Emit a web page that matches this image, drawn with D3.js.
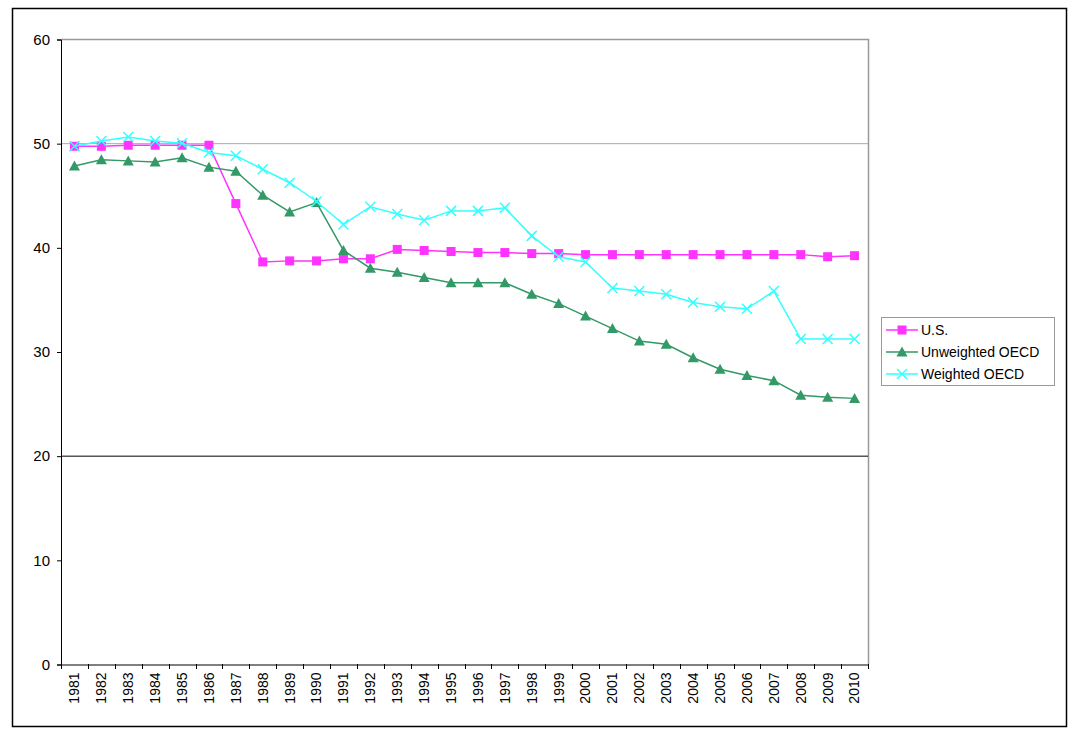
<!DOCTYPE html>
<html><head><meta charset="utf-8">
<script src="https://cdn.jsdelivr.net/npm/d3@7"></script>
<style>body{margin:0;background:#fff}svg{display:block}text{font-family:"Liberation Sans",Arial,sans-serif}</style>
</head><body>
<svg id="c" width="1076" height="737"></svg>
<script>
const years = ["1981","1982","1983","1984","1985","1986","1987","1988","1989","1990","1991","1992","1993","1994","1995","1996","1997","1998","1999","2000","2001","2002","2003","2004","2005","2006","2007","2008","2009","2010"];
const usValues = [49.7,49.7,49.8,49.8,49.8,49.8,44.2,38.6,38.7,38.7,38.9,38.9,39.8,39.7,39.6,39.5,39.5,39.4,39.4,39.3,39.3,39.3,39.3,39.3,39.3,39.3,39.3,39.3,39.1,39.2];
const unweightedValues = [47.8,48.4,48.3,48.2,48.6,47.7,47.3,45.0,43.4,44.3,39.7,38.0,37.6,37.1,36.6,36.6,36.6,35.5,34.6,33.4,32.2,31.0,30.7,29.4,28.3,27.7,27.2,25.8,25.6,25.5];
const weightedValues = [49.7,50.2,50.6,50.2,50.0,49.1,48.8,47.5,46.2,44.4,42.2,43.9,43.2,42.6,43.5,43.5,43.8,41.1,39.1,38.6,36.1,35.8,35.5,34.7,34.3,34.1,35.8,31.2,31.2,31.2];
const yTicks = [0,10,20,30,40,50,60];
const seriesNames = ["U.S.","Unweighted OECD","Weighted OECD"];
const seriesColors = ["#ff33ff","#339966","#33ffff"];
const seriesMarkers = ["square","triangle","cross"];

const series = [usValues, unweightedValues, weightedValues].map((v,i)=>({name:seriesNames[i],color:seriesColors[i],marker:seriesMarkers[i],values:v}));

const svg = d3.select("#c");
svg.append("rect").attr("x",12.5).attr("y",8.5).attr("width",1054).attr("height",718)
  .attr("fill","#fff").attr("stroke","#000").attr("stroke-width",1.5);

const L=61, T=39, R=868, B=664;
const x = d3.scaleBand().domain(years).range([L,R]);
const y = d3.scaleLinear().domain([0,60]).range([B,T]);

svg.append("path").attr("d",`M${L},${T+0.5}H${R+0.5}V${B}`).attr("fill","none").attr("stroke","#999").attr("stroke-width",1.5);
svg.append("line").attr("x1",L).attr("x2",R).attr("y1",y(50)+0.5).attr("y2",y(50)+0.5).attr("stroke","#aaa").attr("stroke-width",1);
svg.append("line").attr("x1",L).attr("x2",R).attr("y1",y(20)+0.5).attr("y2",y(20)+0.5).attr("stroke","#000").attr("stroke-width",1);

const ya = svg.append("g").attr("transform",`translate(${L},0.5)`).call(d3.axisLeft(y).tickValues(yTicks).tickSize(4).tickPadding(7).tickFormat(d3.format("d")));
ya.select(".domain").attr("stroke","#000");
ya.selectAll("text").attr("font-size",15).attr("fill","#000");

const xa = svg.append("g").attr("transform",`translate(0,${B+0.5})`).call(d3.axisBottom(x).tickSize(0).tickSizeOuter(0));
xa.select(".domain").attr("stroke","#000");
xa.selectAll(".tick line").remove();
xa.selectAll("text").attr("font-size",14).attr("fill","#000")
  .attr("transform","rotate(-90)").attr("text-anchor","end").attr("dx","-8").attr("dy","0.35em").attr("y",0);
svg.append("g").selectAll("line").data(years.concat(["end"])).join("line")
  .attr("x1",(d,i)=>Math.round(L + i*x.step())+0.5).attr("x2",(d,i)=>Math.round(L + i*x.step())+0.5)
  .attr("y1",B).attr("y2",B+5).attr("stroke","#000");

function drawMarker(g, type, color, cx, cy){
  if(type==="square"){
    g.append("rect").attr("x",cx-4.5).attr("y",cy-4.5).attr("width",9).attr("height",9).attr("fill",color);
  } else if(type==="triangle"){
    g.append("path").attr("d",`M${cx},${cy-5.5}L${cx+5.5},${cy+4.5}L${cx-5.5},${cy+4.5}Z`).attr("fill",color);
  } else {
    g.append("path").attr("d",`M${cx-5},${cy-5}L${cx+5},${cy+5}M${cx-5},${cy+5}L${cx+5},${cy-5}`).attr("stroke",color).attr("stroke-width",1.5).attr("fill","none");
  }
}

const line = d3.line().x((d,i)=>x(years[i])+x.bandwidth()/2).y(d=>y(d));
series.forEach(s=>{
  const g = svg.append("g");
  g.append("path").datum(s.values).attr("d",line).attr("fill","none").attr("stroke",s.color).attr("stroke-width",1.5);
  s.values.forEach((v,i)=>drawMarker(g,s.marker,s.color,x(years[i])+x.bandwidth()/2,y(v)));
});

const lg = svg.append("g");
lg.append("rect").attr("x",881.5).attr("y",317.5).attr("width",173).attr("height",68).attr("fill","#fff").attr("stroke","#999");
series.forEach((s,i)=>{
  const cy = 330 + i*22;
  lg.append("line").attr("x1",886).attr("x2",918).attr("y1",cy).attr("y2",cy).attr("stroke",s.color).attr("stroke-width",1.5);
  drawMarker(lg,s.marker,s.color,902,cy);
  lg.append("text").attr("x",921).attr("y",cy).attr("dy","0.36em").attr("font-size",14).text(s.name);
});
</script>
</body></html>
